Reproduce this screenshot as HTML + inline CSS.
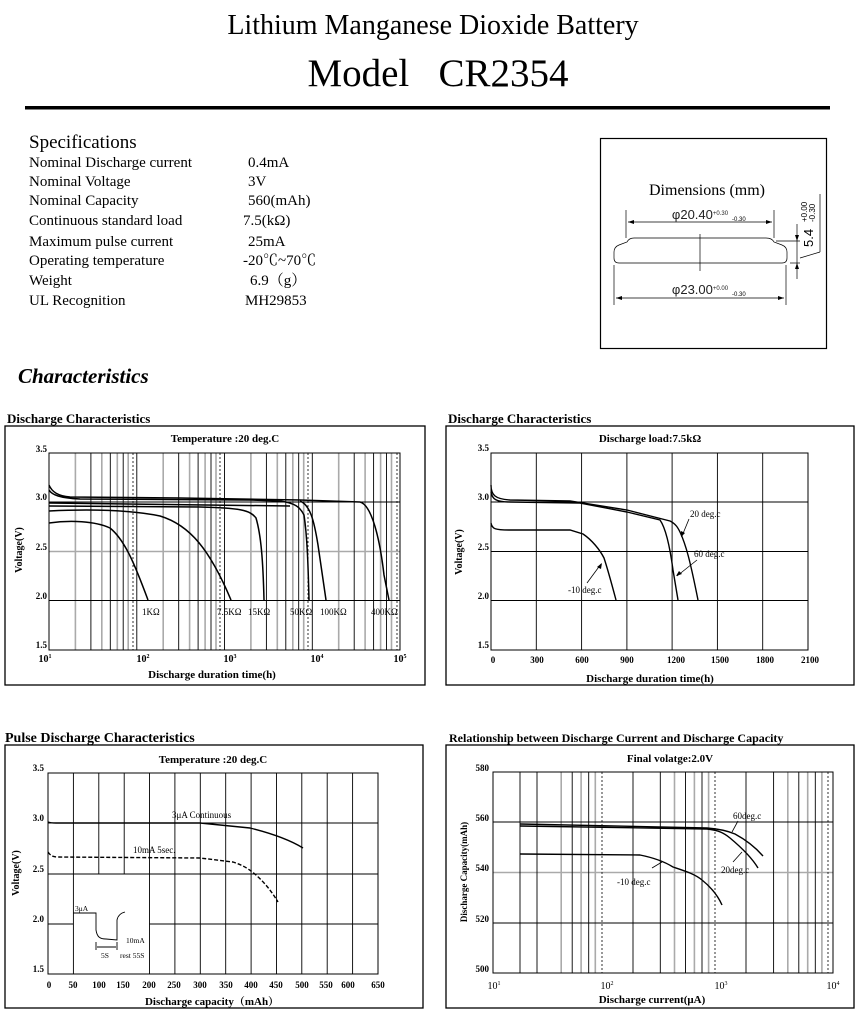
<!DOCTYPE html>
<html><head><meta charset="utf-8"><style>
html,body{margin:0;padding:0;background:#fff;}
svg{display:block;font-family:"Liberation Serif","Noto Serif CJK SC",serif;}
.b{font-weight:bold}
</style></head><body>
<svg width="860" height="1013" viewBox="0 0 860 1013" xmlns="http://www.w3.org/2000/svg">
<!-- Header -->
<text x="433" y="34" font-size="28" text-anchor="middle">Lithium Manganese Dioxide Battery</text>
<text x="438" y="86" font-size="39" text-anchor="middle">Model&#160;&#160;&#160;CR2354</text>
<rect x="25" y="106" width="805" height="3.5" fill="#000"/>

<!-- Specs -->
<g font-size="15">
<text x="29" y="148" font-size="19">Specifications</text>
<text x="29" y="167">Nominal Discharge current</text><text x="248" y="167">0.4mA</text>
<text x="29" y="186">Nominal Voltage</text><text x="248" y="186">3V</text>
<text x="29" y="205">Nominal Capacity</text><text x="248" y="205">560(mAh)</text>
<text x="29" y="225">Continuous standard load</text><text x="243" y="225">7.5(kΩ)</text>
<text x="29" y="246">Maximum pulse current</text><text x="248" y="246">25mA</text>
<text x="29" y="265">Operating temperature</text><text x="243" y="265">-20℃~70℃</text>
<text x="29" y="285">Weight</text><text x="250" y="285">6.9（g）</text>
<text x="29" y="305">UL Recognition</text><text x="245" y="305">MH29853</text>
</g>

<!-- Dimensions box -->
<rect x="600.5" y="138.5" width="226" height="210" fill="none" stroke="#000" stroke-width="1.2"/>
<text x="707" y="195" font-size="16" text-anchor="middle">Dimensions (mm)</text>
<g stroke="#000" stroke-width="0.7" fill="none">
<line x1="626" y1="210" x2="626" y2="238"/><line x1="774" y1="210" x2="774" y2="238"/>
<line x1="628" y1="222" x2="772" y2="222"/>
<path d="M627,242 Q629,238 634,238 L766,238 Q772,238 774,242 L782,245 Q787,247 787,252 L787,258 Q787,263 782,263 L619,263 Q614,263 614,258 L614,252 Q614,247 619,245 Z"/>
<line x1="700" y1="234" x2="700" y2="271"/>
<line x1="614" y1="265" x2="614" y2="305"/><line x1="786" y1="265" x2="786" y2="305"/>
<line x1="616" y1="298" x2="784" y2="298"/>
<line x1="776" y1="241" x2="800" y2="241"/><line x1="790" y1="263" x2="800" y2="263"/>
<line x1="797" y1="224" x2="797" y2="279"/>
<line x1="800" y1="258" x2="820" y2="252"/><line x1="820" y1="252" x2="820" y2="194"/>
</g>
<g fill="#000">
<path d="M628,222 l6,-2 v4z"/><path d="M772,222 l-6,-2 v4z"/>
<path d="M616,298 l6,-2 v4z"/><path d="M784,298 l-6,-2 v4z"/>
<path d="M797,241 l-2,-6 h4z"/><path d="M797,263 l-2,6 h4z"/>
</g>
<text x="700" y="219" font-size="13" text-anchor="middle" font-family="Liberation Sans,sans-serif" fill="#222">φ20.40<tspan font-size="6" dy="-4">+0.30</tspan></text>
<text x="732" y="221" font-size="6" font-family="Liberation Sans,sans-serif">-0.30</text>
<text x="700" y="294" font-size="13" text-anchor="middle" font-family="Liberation Sans,sans-serif" fill="#222">φ23.00<tspan font-size="6" dy="-4">+0.00</tspan></text>
<text x="732" y="296" font-size="6" font-family="Liberation Sans,sans-serif">-0.30</text>
<text transform="translate(813,247) rotate(-90)" font-size="13" font-family="Liberation Sans,sans-serif">5.4</text>
<text transform="translate(807,222) rotate(-90)" font-size="8" font-family="Liberation Sans,sans-serif">+0.00</text>
<text transform="translate(815,222) rotate(-90)" font-size="8" font-family="Liberation Sans,sans-serif">-0.30</text>

<text x="18" y="383" font-size="21" class="b" font-style="italic">Characteristics</text>

<!-- ============ Chart 1 ============ -->
<text x="7" y="423" font-size="13" class="b">Discharge Characteristics</text>
<rect x="5" y="426" width="420" height="259" fill="none" stroke="#000" stroke-width="1.3"/>
<text x="225" y="442" font-size="11" class="b" text-anchor="middle">Temperature :20 deg.C</text>
<g stroke="#aaa" stroke-width="1.6">
<line x1="75.4" y1="453" x2="75.4" y2="650"/><line x1="101.8" y1="453" x2="101.8" y2="650"/><line x1="117.3" y1="453" x2="117.3" y2="650"/><line x1="128.2" y1="453" x2="128.2" y2="650"/>
<line x1="163.2" y1="453" x2="163.2" y2="650"/><line x1="189.6" y1="453" x2="189.6" y2="650"/><line x1="205.1" y1="453" x2="205.1" y2="650"/><line x1="216" y1="453" x2="216" y2="650"/>
<line x1="250.9" y1="453" x2="250.9" y2="650"/><line x1="277.3" y1="453" x2="277.3" y2="650"/><line x1="292.8" y1="453" x2="292.8" y2="650"/><line x1="303.7" y1="453" x2="303.7" y2="650"/>
<line x1="338.7" y1="453" x2="338.7" y2="650"/><line x1="365.1" y1="453" x2="365.1" y2="650"/><line x1="380.6" y1="453" x2="380.6" y2="650"/><line x1="391.5" y1="453" x2="391.5" y2="650"/>
<line x1="49" y1="551.5" x2="400" y2="551.5"/>
</g>
<g stroke="#000" stroke-width="0.9">
<line x1="90.9" y1="453" x2="90.9" y2="650"/><line x1="110.3" y1="453" x2="110.3" y2="650"/><line x1="123.2" y1="453" x2="123.2" y2="650"/>
<line x1="136.8" y1="453" x2="136.8" y2="650"/>
<line x1="178.7" y1="453" x2="178.7" y2="650"/><line x1="198.1" y1="453" x2="198.1" y2="650"/><line x1="211" y1="453" x2="211" y2="650"/>
<line x1="224.5" y1="453" x2="224.5" y2="650"/>
<line x1="266.4" y1="453" x2="266.4" y2="650"/><line x1="285.8" y1="453" x2="285.8" y2="650"/><line x1="298.7" y1="453" x2="298.7" y2="650"/>
<line x1="312.3" y1="453" x2="312.3" y2="650"/>
<line x1="354.2" y1="453" x2="354.2" y2="650"/><line x1="373.6" y1="453" x2="373.6" y2="650"/><line x1="386.5" y1="453" x2="386.5" y2="650"/>
<line x1="49" y1="502" x2="400" y2="502"/><line x1="49" y1="600.5" x2="400" y2="600.5"/>
</g>
<g stroke="#000" stroke-width="0.8" stroke-dasharray="2,2">
<line x1="133" y1="453" x2="133" y2="650"/><line x1="220" y1="453" x2="220" y2="650"/><line x1="308" y1="453" x2="308" y2="650"/><line x1="397" y1="453" x2="397" y2="650"/>
</g>
<rect x="49" y="453" width="351" height="197" fill="none" stroke="#000" stroke-width="1"/>
<g stroke="#000" stroke-width="1.5" fill="none">
<path d="M49,485 C52,492 58,496 70,497 L180,498 L300,500 L360,502 C372,505 380,540 384,575 L389,600"/>
<path d="M49,490 C52,495 60,498 80,499 L250,500 L280,501 C295,503 300,507 304,515 C307,535 308,560 309,600"/>
<path d="M300,501 C310,505 314,520 318,545 L326,600"/>
<path d="M49,523 C70,520 95,521 110,528 C125,540 135,565 148,600"/>
<path d="M49,511 C90,509 130,510 160,516 C190,525 210,550 231,600"/>
<path d="M49,506 L200,507 C240,508 250,510 256,518 C261,535 263,560 264,600"/>
<path d="M49,503 L290,506"/>
</g>
<g font-size="9">
<text x="142" y="615">1KΩ</text><text x="217" y="615">7.5KΩ</text><text x="248" y="615">15KΩ</text>
<text x="290" y="615">50KΩ</text><text x="320" y="615">100KΩ</text><text x="371" y="615">400KΩ</text>
</g>
<g font-size="9" class="b" text-anchor="end">
<text x="47" y="452">3.5</text><text x="47" y="500">3.0</text><text x="47" y="550">2.5</text><text x="47" y="599">2.0</text><text x="47" y="648">1.5</text>
</g>
<g font-size="10" class="b" text-anchor="middle">
<text x="45" y="662">10<tspan font-size="6" dy="-4">1</tspan></text>
<text x="143" y="662">10<tspan font-size="6" dy="-4">2</tspan></text>
<text x="230" y="662">10<tspan font-size="6" dy="-4">3</tspan></text>
<text x="317" y="662">10<tspan font-size="6" dy="-4">4</tspan></text>
<text x="400" y="662">10<tspan font-size="6" dy="-4">5</tspan></text>
</g>
<text x="212" y="678" font-size="11" class="b" text-anchor="middle">Discharge duration time(h)</text>
<text transform="translate(22,550) rotate(-90)" font-size="10" class="b" text-anchor="middle">Voltage(V)</text>

<!-- ============ Chart 2 ============ -->
<text x="448" y="423" font-size="13" class="b">Discharge Characteristics</text>
<rect x="446" y="426" width="408" height="259" fill="none" stroke="#000" stroke-width="1.3"/>
<text x="650" y="442" font-size="11" class="b" text-anchor="middle">Discharge load:7.5kΩ</text>
<g stroke="#000" stroke-width="0.9">
<line x1="536.3" y1="453" x2="536.3" y2="650"/><line x1="581.6" y1="453" x2="581.6" y2="650"/><line x1="626.9" y1="453" x2="626.9" y2="650"/>
<line x1="672.1" y1="453" x2="672.1" y2="650"/><line x1="717.4" y1="453" x2="717.4" y2="650"/><line x1="762.7" y1="453" x2="762.7" y2="650"/>
<line x1="491" y1="502" x2="808" y2="502"/><line x1="491" y1="551.5" x2="808" y2="551.5"/><line x1="491" y1="600.5" x2="808" y2="600.5"/>
</g>
<rect x="491" y="453" width="317" height="197" fill="none" stroke="#000" stroke-width="1"/>
<g stroke="#000" stroke-width="1.4" fill="none">
<path d="M491,485 C491,495 495,499 510,500 L570,501 L627,510 L670,521 C676,524 678,528 680,532 C686,545 690,560 698,600"/>
<path d="M491,492 C492,499 496,502 510,502 L580,503 L627,512 L660,520 C667,530 671,555 673,570 L678,600"/>
<path d="M491,523 C492,529 495,530 510,530 L570,530 L583,534 C592,540 600,550 604,558 C608,570 612,585 616,600"/>
</g>
<g stroke="#000" stroke-width="0.8" fill="none">
<line x1="689" y1="519" x2="682" y2="536"/><line x1="697" y1="560" x2="677" y2="576"/><line x1="587" y1="583" x2="601" y2="564"/>
</g>
<g fill="#000"><path d="M681,537 l0,-6 4,2z"/><path d="M676,576 l3,-5 3,3z"/><path d="M602,563 l-1,6 -4,-2z"/></g>
<g font-size="9">
<text x="690" y="517">20 deg.c</text><text x="694" y="557">60 deg.c</text><text x="568" y="593">-10 deg.c</text>
</g>
<g font-size="9" class="b" text-anchor="end">
<text x="489" y="451">3.5</text><text x="489" y="500">3.0</text><text x="489" y="550">2.5</text><text x="489" y="599">2.0</text><text x="489" y="648">1.5</text>
</g>
<g font-size="9" class="b" text-anchor="middle">
<text x="493" y="663">0</text><text x="537" y="663">300</text><text x="582" y="663">600</text><text x="627" y="663">900</text>
<text x="676" y="663">1200</text><text x="720" y="663">1500</text><text x="765" y="663">1800</text><text x="810" y="663">2100</text>
</g>
<text x="650" y="682" font-size="11" class="b" text-anchor="middle">Discharge duration time(h)</text>
<text transform="translate(462,552) rotate(-90)" font-size="10" class="b" text-anchor="middle">Voltage(V)</text>

<!-- ============ Chart 3 ============ -->
<text x="5" y="742" font-size="14" class="b">Pulse Discharge Characteristics</text>
<rect x="5" y="745" width="418" height="263" fill="none" stroke="#000" stroke-width="1.3"/>
<text x="213" y="763" font-size="11" class="b" text-anchor="middle">Temperature :20 deg.C</text>
<g stroke="#000" stroke-width="0.9">
<line x1="73.4" y1="773" x2="73.4" y2="974"/>
<line x1="98.8" y1="773" x2="98.8" y2="874"/><line x1="124.2" y1="773" x2="124.2" y2="874"/>
<line x1="149.5" y1="773" x2="149.5" y2="974"/>
<line x1="174.9" y1="773" x2="174.9" y2="974"/><line x1="200.3" y1="773" x2="200.3" y2="974"/><line x1="225.7" y1="773" x2="225.7" y2="974"/>
<line x1="251.1" y1="773" x2="251.1" y2="974"/><line x1="276.5" y1="773" x2="276.5" y2="974"/><line x1="301.8" y1="773" x2="301.8" y2="974"/>
<line x1="327.2" y1="773" x2="327.2" y2="974"/><line x1="352.6" y1="773" x2="352.6" y2="974"/>
<line x1="48" y1="823" x2="378" y2="823"/><line x1="48" y1="874" x2="378" y2="874"/>
<line x1="48" y1="924" x2="73.4" y2="924"/><line x1="149.5" y1="924" x2="378" y2="924"/>
</g>
<rect x="48" y="773" width="330" height="201" fill="none" stroke="#000" stroke-width="1"/>
<path d="M48,822 C50,823 52,823 56,823 L200,823 L250,828 C270,833 290,840 303,848" stroke="#000" stroke-width="1.4" fill="none"/>
<path d="M48,852 C50,855 52,857 58,857 L200,858 L233,862 C245,866 250,870 256,875 C265,883 272,892 278,902" stroke="#000" stroke-width="1.4" fill="none" stroke-dasharray="4,2"/>
<text x="172" y="818" font-size="9">3μA Continuous</text>
<text x="133" y="853" font-size="9">10mA  5sec.</text>
<g stroke="#000" stroke-width="0.9" fill="none">
<path d="M73,913 L96,913 L96,930 C97,937 100,939 106,939 L117,940 L117,920 C118,915 121,913 125,912"/>
<line x1="96" y1="942" x2="96" y2="950"/><line x1="117" y1="942" x2="117" y2="950"/><line x1="97" y1="947" x2="116" y2="947"/>
</g>
<g font-size="7.5">
<text x="75" y="911">3μA</text><text x="126" y="943">10mA</text><text x="101" y="958">5S</text><text x="120" y="958">rest 55S</text>
</g>
<g font-size="9" class="b" text-anchor="end">
<text x="44" y="771">3.5</text><text x="44" y="821">3.0</text><text x="44" y="872">2.5</text><text x="44" y="922">2.0</text><text x="44" y="972">1.5</text>
</g>
<g font-size="9" class="b" text-anchor="middle">
<text x="49" y="988">0</text><text x="73" y="988">50</text><text x="99" y="988">100</text><text x="123" y="988">150</text>
<text x="149" y="988">200</text><text x="174" y="988">250</text><text x="200" y="988">300</text><text x="226" y="988">350</text>
<text x="251" y="988">400</text><text x="276" y="988">450</text><text x="302" y="988">500</text><text x="326" y="988">550</text>
<text x="348" y="988">600</text><text x="378" y="988">650</text>
</g>
<text x="212" y="1005" font-size="11" class="b" text-anchor="middle">Discharge capacity（mAh）</text>
<text transform="translate(19,873) rotate(-90)" font-size="10" class="b" text-anchor="middle">Voltage(V)</text>

<!-- ============ Chart 4 ============ -->
<text x="449" y="742" font-size="12" class="b">Relationship between Discharge Current and Discharge Capacity</text>
<rect x="446" y="745" width="408" height="263" fill="none" stroke="#000" stroke-width="1.3"/>
<text x="670" y="762" font-size="11" class="b" text-anchor="middle">Final volatge:2.0V</text>
<g stroke="#aaa" stroke-width="1.6">
<line x1="561.2" y1="772" x2="561.2" y2="973"/><line x1="581.1" y1="772" x2="581.1" y2="973"/><line x1="595.3" y1="772" x2="595.3" y2="973"/>
<line x1="674.5" y1="772" x2="674.5" y2="973"/><line x1="694.4" y1="772" x2="694.4" y2="973"/><line x1="708.6" y1="772" x2="708.6" y2="973"/>
<line x1="787.8" y1="772" x2="787.8" y2="973"/><line x1="807.7" y1="772" x2="807.7" y2="973"/><line x1="821.9" y1="772" x2="821.9" y2="973"/>
<line x1="493" y1="872.5" x2="833" y2="872.5"/>
</g>
<g stroke="#000" stroke-width="0.9">
<line x1="520" y1="772" x2="520" y2="973"/><line x1="537" y1="772" x2="537" y2="973"/><line x1="572.2" y1="772" x2="572.2" y2="973"/><line x1="588.7" y1="772" x2="588.7" y2="973"/>
<line x1="633" y1="772" x2="633" y2="973"/><line x1="660.3" y1="772" x2="660.3" y2="973"/><line x1="685.5" y1="772" x2="685.5" y2="973"/><line x1="702" y1="772" x2="702" y2="973"/>
<line x1="746" y1="772" x2="746" y2="973"/><line x1="773.6" y1="772" x2="773.6" y2="973"/><line x1="798.8" y1="772" x2="798.8" y2="973"/><line x1="815.3" y1="772" x2="815.3" y2="973"/>
<line x1="493" y1="822" x2="833" y2="822"/><line x1="493" y1="923" x2="833" y2="923"/>
</g>
<g stroke="#000" stroke-width="0.8" stroke-dasharray="2,2">
<line x1="602" y1="772" x2="602" y2="973"/><line x1="715" y1="772" x2="715" y2="973"/><line x1="828" y1="772" x2="828" y2="973"/>
</g>
<rect x="493" y="772" width="340" height="201" fill="none" stroke="#000" stroke-width="1"/>
<g stroke="#000" stroke-width="1.4" fill="none">
<path d="M520,824 L707,828 C720,829 728,831 735,834 C748,841 756,848 763,856"/>
<path d="M520,826 L707,829 C718,830 724,833 730,838 C742,848 752,858 758,868"/>
<path d="M520,854 L640,855 C655,858 665,862 673,867 C685,871 695,874 702,880 C712,888 718,896 722,905"/>
</g>
<g stroke="#000" stroke-width="0.8" fill="none">
<line x1="738" y1="821" x2="732" y2="832"/><line x1="733" y1="862" x2="742" y2="852"/><line x1="652" y1="868" x2="662" y2="862"/>
</g>
<g font-size="9">
<text x="733" y="819">60deg.c</text><text x="721" y="873">20deg.c</text><text x="617" y="885">-10 deg.c</text>
</g>
<g font-size="9" class="b" text-anchor="end">
<text x="489" y="771">580</text><text x="489" y="821">560</text><text x="489" y="871">540</text><text x="489" y="922">520</text><text x="489" y="972">500</text>
</g>
<g font-size="10" text-anchor="middle">
<text x="494" y="989">10<tspan font-size="6" dy="-4">1</tspan></text>
<text x="607" y="989">10<tspan font-size="6" dy="-4">2</tspan></text>
<text x="721" y="989">10<tspan font-size="6" dy="-4">3</tspan></text>
<text x="833" y="989">10<tspan font-size="6" dy="-4">4</tspan></text>
</g>
<text x="652" y="1003" font-size="11" class="b" text-anchor="middle">Discharge current(μA)</text>
<text transform="translate(467,872) rotate(-90)" font-size="9" class="b" text-anchor="middle">Discharge Capacity(mAh)</text>
</svg>
</body></html>
